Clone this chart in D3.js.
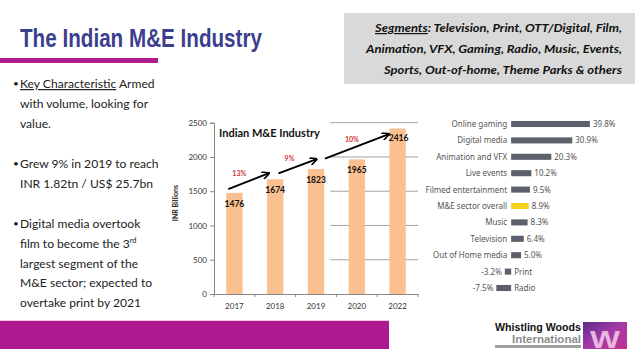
<!DOCTYPE html>
<html><head><meta charset="utf-8">
<script src="https://cdn.jsdelivr.net/npm/d3@7"></script>
<style>
html,body{margin:0;padding:0;background:#fff;}
svg{display:block;}
</style></head>
<body>
<svg id="c" width="638" height="359"></svg>
<script>
// ---- Data ----
const years = ["2017", "2018", "2019", "2020", "2022"];
const revenue = [1476, 1674, 1823, 1965, 2416];
const yTicks = [0, 500, 1000, 1500, 2000, 2500];
const growthLabels = ["13%", "9%", "10%"];
// growth arrows in data units: [catIndexFrom, valueFrom, catIndexTo, valueTo]
const arrowFromIdx = [-0.15, 1.08, 2.22];
const arrowFromVal = [1530, 1760, 1975];
const arrowToIdx = [0.83, 2.0, 3.77];
const arrowToVal = [1760, 1965, 2330];
const growthLblIdx = [0.12, 1.35, 2.88];
const growthLblVal = [1720, 1935, 2215];

const segments = ["Online gaming", "Digital media", "Animation and VFX", "Live events",
  "Filmed entertainment", "M&E sector overall", "Music", "Television",
  "Out of Home media", "Print", "Radio"];
const segGrowth = [39.8, 30.9, 20.3, 10.2, 9.5, 8.9, 8.3, 6.4, 5.0, -3.2, -7.5];
const segGrowthLbl = ["39.8%", "30.9%", "20.3%", "10.2%", "9.5%", "8.9%", "8.3%", "6.4%", "5.0%", "-3.2%", "-7.5%"];

const svg = d3.select("#c");
const bodyFont = "Lato, 'Open Sans', sans-serif";
const narrow = "'Liberation Sans', Arial, sans-serif";

// ---- Header ----
svg.append("text").attr("x", 20).attr("y", 47)
  .attr("font-family", narrow)
  .attr("font-weight", "bold").attr("font-size", 26).attr("fill", "#3c3f8e")
  .attr("textLength", 242).attr("lengthAdjust", "spacingAndGlyphs")
  .text("The Indian M&E Industry");
svg.append("rect").attr("x", 0).attr("y", 58).attr("width", 158).attr("height", 5).attr("fill", "#b01c8e");

// Segments box
svg.append("rect").attr("x", 344).attr("y", 13).attr("width", 291).attr("height", 71).attr("fill", "#d9d9d9");
const segLines = [
  {w: 247, parts: [{t: "Segments", u: true}, {t: ": Television, Print, OTT/Digital, Film,"}]},
  {w: 256, parts: [{t: "Animation, VFX, Gaming, Radio, Music, Events,"}]},
  {w: 238, parts: [{t: "Sports, Out-of-home, Theme Parks & others"}]}
];
segLines.forEach((ln, i) => {
  const t = svg.append("text").attr("x", 622 - ln.w).attr("y", 32 + i * 20.8)
    .attr("font-family", bodyFont)
    .attr("font-style", "italic").attr("font-weight", "bold").attr("font-size", 12).attr("fill", "#111")
    .attr("textLength", ln.w).attr("lengthAdjust", "spacingAndGlyphs");
  ln.parts.forEach(p => {
    const s = t.append("tspan").text(p.t);
    if (p.u) s.attr("text-decoration", "underline");
  });
});

// ---- Bullets ----
const bullets = [
  {y: 88, lines: [[{t: "Key Characteristic", u: true}, {t: " Armed"}], [{t: "with volume, looking for"}], [{t: "value."}]]},
  {y: 168, lines: [[{t: "Grew 9% in 2019 to reach"}], [{t: "INR 1.82tn / US$ 25.7bn"}]]},
  {y: 228, lines: [[{t: "Digital media overtook"}], [{t: "film to become the 3"}, {t: "rd", sup: true}], [{t: "largest segment of the"}], [{t: "M&E sector; expected to"}], [{t: "overtake print by 2021"}]]}
];
bullets.forEach(b => {
  svg.append("text").attr("x", 13).attr("y", b.y - 1).attr("font-family", bodyFont)
    .attr("font-size", 10).attr("fill", "#222").text("•");
  b.lines.forEach((ln, i) => {
    const t = svg.append("text").attr("x", 20).attr("y", b.y + i * 19.8)
      .attr("font-family", bodyFont).attr("font-size", 12.1).attr("fill", "#222");
    ln.forEach(p => {
      const s = t.append("tspan").text(p.t);
      if (p.u) s.attr("text-decoration", "underline");
      if (p.sup) s.attr("font-size", 7.5).attr("dy", -5);
    });
  });
});

// ---- Left bar chart ----
const x = d3.scaleBand().domain(years).range([214, 418]).paddingInner(0.6).paddingOuter(0.3);
const step = x.step();
const xc = i => x(years[0]) + x.bandwidth() / 2 + i * step;
const y = d3.scaleLinear().domain([0, 2500]).range([294, 122.7]);

// partial gridlines (visible only in right portion)
svg.append("g").selectAll("line").data(yTicks.slice(1)).join("line")
  .attr("x1", xc(2.35)).attr("x2", 418)
  .attr("y1", d => y(d)).attr("y2", d => y(d))
  .attr("stroke", "#8a8a8a").attr("stroke-width", 0.8);

svg.append("g").selectAll("rect").data(revenue).join("rect")
  .attr("x", (d, i) => x(years[i])).attr("width", x.bandwidth())
  .attr("y", d => y(d)).attr("height", d => y(0) - y(d))
  .attr("fill", "#fac08f");

// y axis
const yAxis = svg.append("g").attr("transform", "translate(214,0)")
  .call(d3.axisLeft(y).tickValues(yTicks).tickFormat(d3.format("d")).tickSize(4).tickPadding(3));
yAxis.select(".domain").attr("stroke", "#888");
yAxis.selectAll(".tick line").attr("stroke", "#888");
yAxis.selectAll("text").attr("font-family", bodyFont).attr("font-size", 8).attr("fill", "#333");

// x axis
const xAxis = svg.append("g").attr("transform", `translate(0,${y(0)})`)
  .call(d3.axisBottom(x).tickSize(0).tickPadding(9));
xAxis.select(".domain").attr("stroke", "#888");
xAxis.selectAll("text").attr("font-family", bodyFont).attr("font-size", 8).attr("fill", "#333");
svg.append("g").selectAll("line").data(d3.range(years.length + 1)).join("line")
  .attr("x1", i => 214 + i * step).attr("x2", i => 214 + i * step)
  .attr("y1", y(0)).attr("y2", y(0) + 3).attr("stroke", "#888");

// y axis title
svg.append("text").attr("transform", "translate(178,203) rotate(-90)")
  .attr("text-anchor", "middle").attr("font-family", bodyFont)
  .attr("font-weight", "bold").attr("font-size", 7).attr("fill", "#222").text("INR Billions");

// chart title
svg.append("text").attr("x", 219).attr("y", 137).attr("font-family", bodyFont)
  .attr("font-weight", "bold").attr("font-size", 11).attr("fill", "#111").text("Indian M&E Industry");

// value labels
svg.append("g").selectAll("text").data(revenue).join("text")
  .attr("x", (d, i) => xc(i) + (i === 4 ? 1 : 0))
  .attr("y", (d, i) => y(d) + (i === 4 ? 13 : 14))
  .attr("text-anchor", "middle").attr("font-family", bodyFont)
  .attr("font-weight", "bold").attr("font-size", 8.5).attr("fill", "#111").text(d => d);

// arrows
const defs = svg.append("defs");
defs.append("marker").attr("id", "ah").attr("viewBox", "0 0 10 10").attr("refX", 8).attr("refY", 5)
  .attr("markerWidth", 4).attr("markerHeight", 4).attr("orient", "auto")
  .append("path").attr("d", "M0,0 L10,5 L0,10").attr("fill", "none").attr("stroke", "#000").attr("stroke-width", 2);
svg.append("g").selectAll("line").data(arrowFromIdx).join("line")
  .attr("x1", (d, i) => xc(d)).attr("y1", (d, i) => y(arrowFromVal[i]))
  .attr("x2", (d, i) => xc(arrowToIdx[i])).attr("y2", (d, i) => y(arrowToVal[i]))
  .attr("stroke", "#000").attr("stroke-width", 2).attr("marker-end", "url(#ah)");
svg.append("g").selectAll("text").data(growthLabels).join("text")
  .attr("x", (d, i) => xc(growthLblIdx[i])).attr("y", (d, i) => y(growthLblVal[i]))
  .attr("text-anchor", "middle").attr("font-family", bodyFont).attr("font-weight", "bold")
  .attr("font-size", 7).attr("fill", "#d0343a").text(d => d);

// ---- Right horizontal bar chart ----
const hx = d3.scaleLinear().domain([-7.5, 39.8]).range([496.3, 589.9]);
const hy = d3.scaleBand().domain(segments).range([115.8, 296.2]).paddingInner(0.63).paddingOuter(0.315);
const rf = "'Noto Sans', 'Open Sans', sans-serif";
const hg = svg.append("g");
hg.selectAll("rect").data(segGrowth).join("rect")
  .attr("x", d => Math.min(hx(0), hx(d))).attr("width", d => Math.abs(hx(d) - hx(0)))
  .attr("y", (d, i) => hy(segments[i])).attr("height", hy.bandwidth())
  .attr("fill", (d, i) => segments[i] === "M&E sector overall" ? "#f5d21f" : "#5b606b");
hg.selectAll("text.cat").data(segments).join("text").attr("class", "cat")
  .attr("x", (d, i) => segGrowth[i] >= 0 ? hx(0) - 4 : hx(0) + 3)
  .attr("y", d => hy(d) + hy.bandwidth() / 2 + 2.9)
  .attr("text-anchor", (d, i) => segGrowth[i] >= 0 ? "end" : "start")
  .attr("font-family", rf).attr("font-size", 8).attr("fill", "#555").text(d => d);
hg.selectAll("text.val").data(segGrowthLbl).join("text").attr("class", "val")
  .attr("x", (d, i) => segGrowth[i] >= 0 ? hx(segGrowth[i]) + 3 : hx(segGrowth[i]) - 3)
  .attr("y", (d, i) => hy(segments[i]) + hy.bandwidth() / 2 + 2.9)
  .attr("text-anchor", (d, i) => segGrowth[i] >= 0 ? "start" : "end")
  .attr("font-family", rf).attr("font-size", 8).attr("fill", "#555").text(d => d);

// ---- Footer ----
svg.append("rect").attr("x", 0).attr("y", 320).attr("width", 389).attr("height", 1).attr("fill", "#f3c6e6");
svg.append("rect").attr("x", 0).attr("y", 321).attr("width", 389).attr("height", 28).attr("fill", "#b01a91");

svg.append("text").attr("x", 495).attr("y", 331)
  .attr("font-family", narrow).attr("font-weight", "bold").attr("font-size", 10.5).attr("fill", "#111")
  .attr("textLength", 86).attr("lengthAdjust", "spacingAndGlyphs")
  .text("Whistling Woods");
svg.append("text").attr("x", 512).attr("y", 342.8)
  .attr("font-family", narrow).attr("font-weight", "bold").attr("font-size", 10.5).attr("fill", "#8c8c8c")
  .attr("textLength", 69).attr("lengthAdjust", "spacingAndGlyphs")
  .text("International");
svg.append("rect").attr("x", 495).attr("y", 345).attr("width", 86).attr("height", 3).attr("fill", "#a0a0a0");
const lg = defs.append("linearGradient").attr("id", "lg").attr("x1", 0).attr("y1", 0).attr("x2", 1).attr("y2", 1);
lg.append("stop").attr("offset", 0).attr("stop-color", "#5a2b8a");
lg.append("stop").attr("offset", 0.5).attr("stop-color", "#a53aa6");
lg.append("stop").attr("offset", 1).attr("stop-color", "#c0328f");
svg.append("rect").attr("x", 583).attr("y", 322).attr("width", 44).attr("height", 27).attr("fill", "url(#lg)");
svg.append("text").attr("x", 590).attr("y", 348)
  .attr("font-family", narrow).attr("font-weight", "bold").attr("font-size", 24).attr("fill", "#f3cdec")
  .attr("textLength", 30).attr("lengthAdjust", "spacingAndGlyphs")
  .attr("opacity", 0.85).text("W");
</script>
</body></html>
